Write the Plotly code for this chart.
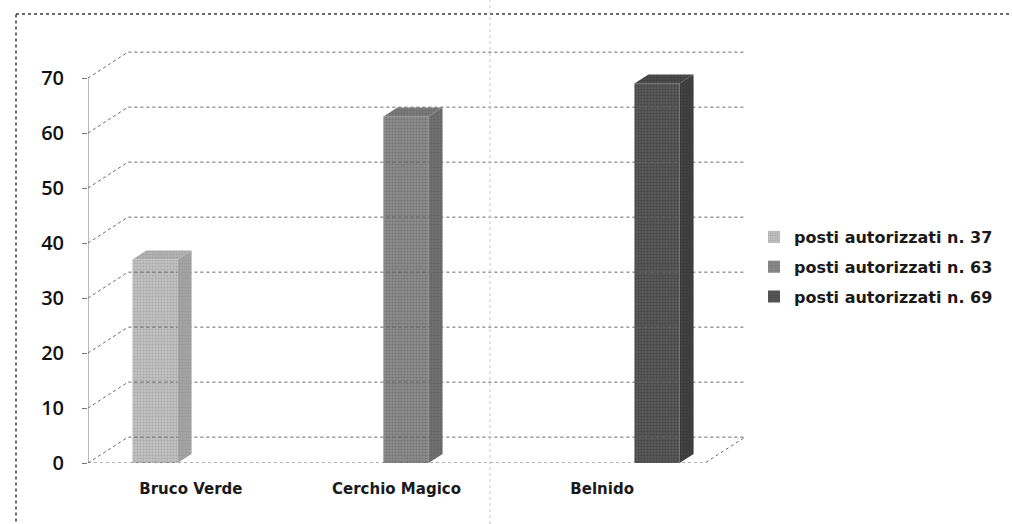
import plotly.graph_objects as go

# ---- data ----
categories = ["Bruco Verde", "Cerchio Magico", "Belnido"]
values = [37, 63, 69]
series_names = ["posti autorizzati n. 37", "posti autorizzati n. 63", "posti autorizzati n. 69"]
y_ticks = [0, 10, 20, 30, 40, 50, 60, 70]

# ---- style ----
front_colors = ["#c2c2c2", "#8c8c8c", "#5a5a5a"]
grain_colors = ["#8a8a8a", "#555555", "#2a2a2a"]
side_colors = ["#a4a4a4", "#707070", "#424242"]
top_colors = ["#b3b3b3", "#7c7c7c", "#4c4c4c"]
line_col = "#666666"

W, H = 1012, 524
# pixel geometry of the plotting area
px_left, px_right = 88, 745
px_bottom, px_top = 463, 40
unit_x = 251.0           # px per category step
unit_y = 5.5             # px per value unit
cat0_px = 155            # pixel of first category centre

x_min = (px_left - cat0_px) / unit_x
x_max = (px_right - cat0_px) / unit_x
y_max = (px_bottom - px_top) / unit_y

wall_dx = 40 / unit_x    # depth offset of back wall
wall_dy = 4.7
floor_front_right = x_max - wall_dx

bar_w = 0.18
depth_dx = 14 / unit_x
depth_dy = 9 / unit_y

fig = go.Figure()

# back wall gridlines with diagonal connectors
for t in y_ticks:
    fig.add_trace(go.Scatter(
        x=[x_min, x_min + wall_dx, x_max], y=[t, t + wall_dy, t + wall_dy],
        mode="lines", line=dict(color=line_col, width=1, dash="dot"),
        showlegend=False, hoverinfo="skip"))

# floor front edge and right diagonal
fig.add_trace(go.Scatter(
    x=[x_min, floor_front_right, x_max], y=[0, 0, wall_dy],
    mode="lines", line=dict(color=line_col, width=1, dash="dot"),
    showlegend=False, hoverinfo="skip"))

# front value axis line (from first to last tick)
fig.add_trace(go.Scatter(
    x=[x_min, x_min], y=[y_ticks[0], y_ticks[-1]],
    mode="lines", line=dict(color="#777777", width=1),
    showlegend=False, hoverinfo="skip"))

# bars: side and top faces, then front face
for i, (v, name) in enumerate(zip(values, series_names)):
    xl, xr = i - bar_w / 2, i + bar_w / 2
    fig.add_trace(go.Scatter(
        x=[xr, xr + depth_dx, xr + depth_dx, xr, xr],
        y=[0, depth_dy, v + depth_dy, v, 0],
        mode="lines", fill="toself", fillcolor=side_colors[i],
        fillpattern=dict(shape=".", size=3, solidity=0.35, fgcolor=grain_colors[i], bgcolor=side_colors[i]),
        line=dict(width=0), showlegend=False, hoverinfo="skip"))
    fig.add_trace(go.Scatter(
        x=[xl, xl + depth_dx, xr + depth_dx, xr, xl],
        y=[v, v + depth_dy, v + depth_dy, v, v],
        mode="lines", fill="toself", fillcolor=top_colors[i],
        fillpattern=dict(shape=".", size=3, solidity=0.35, fgcolor=grain_colors[i], bgcolor=top_colors[i]),
        line=dict(width=0), showlegend=False, hoverinfo="skip"))
    fig.add_trace(go.Bar(
        x=[i], y=[v], width=bar_w, name=name, legendgroup=name,
        marker=dict(color=front_colors[i], line=dict(width=0),
                    pattern=dict(shape=".", size=3, solidity=0.35,
                                 fgcolor=grain_colors[i], bgcolor=front_colors[i])),
        hovertemplate="%{y}<extra></extra>"))

label_pos = [x_min + (k + 0.5) * (floor_front_right - x_min) / 3 for k in range(len(categories))]

fig.update_layout(
    width=W, height=H, autosize=False,
    margin=dict(l=0, r=0, t=0, b=0, autoexpand=False),
    paper_bgcolor="white", plot_bgcolor="white",
    barmode="overlay",
    xaxis=dict(domain=[px_left / W, px_right / W], range=[x_min, x_max], automargin=False,
               tickvals=label_pos, ticktext=categories, showgrid=False, zeroline=False,
               showline=False, ticks="", ticklabelstandoff=15,
               tickfont=dict(family="DejaVu Sans", size=15, weight="bold", color="#1a1a1a")),
    yaxis=dict(domain=[1 - px_bottom / H, 1 - px_top / H], range=[0, y_max], automargin=False,
               tickvals=y_ticks, showgrid=False, zeroline=False,
               showline=False,
               ticks="outside", ticklen=5, tickcolor="#777777", ticklabelstandoff=14,
               tickfont=dict(family="Open Sans", size=20, weight=600, color="#111111")),
    legend=dict(x=754 / W, y=1 - 267 / H, xanchor="left", yanchor="middle",
                font=dict(family="DejaVu Sans", size=16, weight="bold", color="#1a1a1a"),
                traceorder="grouped", tracegroupgap=6, itemwidth=30,
                bgcolor="rgba(0,0,0,0)"),
    shapes=[
        dict(type="rect", xref="paper", yref="paper", x0=16 / W, x1=1.05,
             y0=1 - 14 / H, y1=-0.05, line=dict(color="#3a3a3a", width=1.5, dash="dot")),
        dict(type="line", xref="paper", yref="paper", x0=490 / W, x1=490 / W,
             y0=0, y1=1, line=dict(color="#c8c8c8", width=1, dash="dot")),
    ],
)

fig.write_html("out.html", config={"displayModeBar": False},
               post_script="document.body.style.margin='0';document.body.style.overflow='hidden';")
